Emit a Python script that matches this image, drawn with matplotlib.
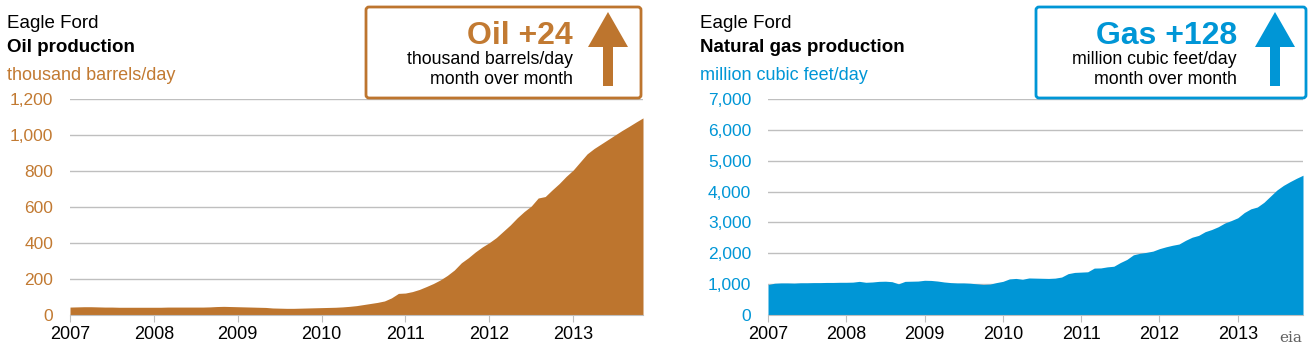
import numpy as np
import matplotlib
matplotlib.use("Agg")
import matplotlib.pyplot as plt
import matplotlib.patches as mpatches
from matplotlib.transforms import Affine2D
from matplotlib.ticker import FuncFormatter

plt.rcParams["font.family"] = ["Liberation Sans", "DejaVu Sans"]

# Monthly values, Jan 2007 .. Nov 2013
oil = [
    44, 45, 46, 46, 45, 44, 44, 43, 43, 43, 43, 43,             # 2007
    43, 43, 44, 44, 44, 44, 44, 44, 45, 47, 48, 47,             # 2008
    46, 45, 44, 43, 42, 39, 38, 37, 37, 38, 39, 40,             # 2009
    41, 42, 43, 45, 48, 52, 58, 64, 70, 78, 95, 120,            # 2010
    122, 130, 142, 158, 175, 195, 220, 250, 290, 318, 350, 378,  # 2011
    402, 430, 465, 500, 540, 575, 605, 650, 658, 695, 730, 770,  # 2012
    805, 850, 895, 925, 950, 975, 1000, 1025, 1048, 1072, 1095,  # 2013
]
gas = [
    985, 1030, 1040, 1040, 1035, 1045, 1045, 1050, 1050, 1055, 1055, 1060,
    1060, 1065, 1090, 1060, 1070, 1090, 1095, 1080, 1010, 1090, 1095, 1100,
    1125, 1120, 1100, 1070, 1050, 1040, 1040, 1030, 1010, 990, 1000, 1050,
    1090, 1170, 1185, 1160, 1200, 1195, 1190, 1185, 1195, 1230, 1340, 1380,
    1390, 1400, 1520, 1525, 1560, 1580, 1700, 1800, 1950, 2000, 2030, 2070,
    2150, 2210, 2260, 2300, 2420, 2520, 2580, 2700, 2770, 2860, 2980, 3060,
    3150, 3320, 3440, 3500, 3650, 3850, 4050, 4200, 4320, 4430, 4530,
]
years = [2007, 2008, 2009, 2010, 2011, 2012, 2013]
oil_ticks = [0, 200, 400, 600, 800, 1000, 1200]
gas_ticks = [0, 1000, 2000, 3000, 4000, 5000, 6000, 7000]

OIL = "#bd752e"
OIL_TXT = "#c27a32"
GAS = "#0096d6"
GRID = "#bfbfbf"

W, H = 1316, 351
fig = plt.figure(figsize=(W / 100, H / 100), dpi=100)
# pixel coordinates measured from the top-left corner
pix = Affine2D().scale(1 / W, -1 / H).translate(0, 1) + fig.transFigure


def panel(left, right, values, ticks, color, txt_color):
    ax = fig.add_axes([left / W, 1 - 315 / H, (right - left) / W, (315 - 99) / H])
    x = 2007 + np.arange(len(values)) / 12
    ax.fill_between(x, 0, values, color=color, lw=0, zorder=2)
    ax.set_xlim(2007, x[-1])
    ax.set_ylim(0, ticks[-1])
    ax.set_yticks(ticks)
    ax.yaxis.set_major_formatter(FuncFormatter(lambda v, p: f"{int(v):,}"))
    ax.set_xticks(years)
    ax.grid(axis="y", color=GRID, lw=1, zorder=1)
    for s in ["top", "right", "left"]:
        ax.spines[s].set_visible(False)
    ax.spines["bottom"].set_color(GRID)
    ax.tick_params(axis="y", length=0, pad=12, labelsize=12.5, labelcolor=txt_color)
    ax.tick_params(axis="x", length=5, color=GRID, pad=3, labelsize=13, labelcolor="black")
    ax.set_facecolor("none")
    return ax


def header(x, name, unit, color):
    fig.text(x, 23, "Eagle Ford", transform=pix, fontsize=13.5, va="center", ha="left")
    fig.text(x, 48, name, transform=pix, fontsize=13.5, fontweight="bold", va="center", ha="left")
    fig.text(x, 76, unit, transform=pix, fontsize=13, color=color, va="center", ha="left")


def callout(x0, x1, label, unit, color, txt_color, tx, ax_x):
    box = mpatches.FancyBboxPatch((x0, 7), x1 - x0, 91, boxstyle="round,pad=0,rounding_size=3",
                                  transform=pix, fill=False, ec=color, lw=2)
    fig.add_artist(box)
    fig.text(tx, 36, label, transform=pix, fontsize=23, fontweight="bold", color=txt_color,
             ha="right", va="center")
    fig.text(tx, 60, unit, transform=pix, fontsize=12.8, ha="right", va="center")
    fig.text(tx, 80, "month over month", transform=pix, fontsize=12.8, ha="right", va="center")
    hw, sw, top, neck, bot = 20, 5, 12, 47, 86
    arrow = mpatches.Polygon(
        [(ax_x - sw, bot), (ax_x - sw, neck), (ax_x - hw, neck), (ax_x, top),
         (ax_x + hw, neck), (ax_x + sw, neck), (ax_x + sw, bot)],
        closed=True, transform=pix, fc=color, ec="none")
    fig.add_artist(arrow)


panel(70, 643, oil, oil_ticks, OIL, OIL_TXT)
panel(768, 1303, gas, gas_ticks, GAS, GAS)

header(7, "Oil production", "thousand barrels/day", OIL_TXT)
header(700, "Natural gas production", "million cubic feet/day", GAS)

callout(366, 641, "Oil +24", "thousand barrels/day", OIL, OIL_TXT, 573, 608)
callout(1036, 1306, "Gas +128", "million cubic feet/day", GAS, GAS, 1237, 1275)

fig.text(1291, 338, "eia", transform=pix, fontsize=11, family="DejaVu Serif",
         color="#606060", ha="center", va="center")

fig.savefig("out.png", dpi=100)
